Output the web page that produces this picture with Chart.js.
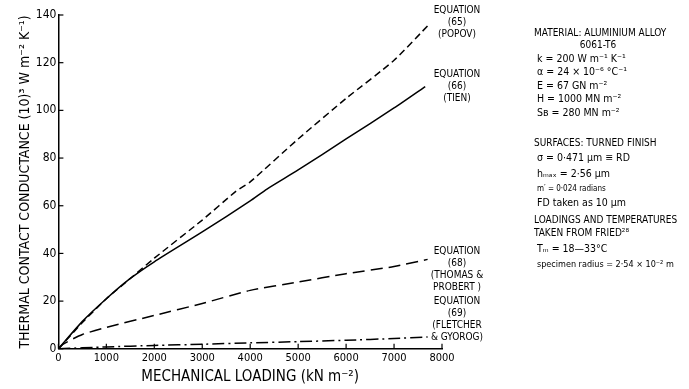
<!DOCTYPE html>
<html lang="en">
<head>
    <meta charset="UTF-8">
    <title>Thermal contact conductance vs mechanical loading</title>
    <script src="https://cdn.jsdelivr.net/npm/chart.js"></script>
    <style>
        body { margin: 0; background: #fff; }
        #wrap { width: 689px; height: 389px; position: relative; }
    </style>
</head>
<body>
<div id="wrap"><canvas id="myChart" width="689" height="389"></canvas></div>
<script>
    // values (loading in kN m^-2, conductance in 10^3 W m^-2 K^-1)
    const popovLoad = [0, 500, 1000, 1500, 2000, 3000, 3700, 4000, 5000, 6000, 7000, 7750];
    const popovCond = [0, 11, 21, 29.5, 38, 54, 66, 70, 88, 105, 121, 136.5];

    const tienLoad = [0, 500, 1000, 1500, 2000, 3000, 4000, 4350, 5000, 6000, 7000, 7650];
    const tienCond = [0, 11.5, 21, 29.5, 36.5, 49, 62, 67, 75, 88, 101, 110];

    const thomasLoad = [0, 100, 500, 1000, 2000, 3000, 4000, 5000, 6000, 7000, 7700];
    const thomasCond = [0, 2, 6, 9, 14, 19, 24.5, 28, 31.5, 34.5, 37.5];

    const fletcherLoad = [0, 1000, 2000, 3000, 4000, 5000, 6000, 7000, 7700];
    const fletcherCond = [0, 0.8, 1.4, 1.9, 2.5, 3, 3.6, 4.3, 5];

    const xTicks = [0, 1000, 2000, 3000, 4000, 5000, 6000, 7000, 8000];
    const yTicks = [0, 20, 40, 60, 80, 100, 120, 140];

    // labels at the ends of the curves
    const eqLabels = [
        ['EQUATION', '(65)', '(POPOV)'],
        ['EQUATION', '(66)', '(TIEN)'],
        ['EQUATION', '(68)', '(THOMAS &', 'PROBERT )'],
        ['EQUATION', '(69)', '(FLETCHER', '& GYOROG)']
    ];
    const eqLabelTop = [142, 115, 41, 20];   // y value of first line

    const noteLines = [
        'MATERIAL: ALUMINIUM ALLOY',
        '6061-T6',
        'k = 200 W m\u207B\u00B9 K\u207B\u00B9',
        '\u03B1 = 24 \u00D7 10\u207B\u2076 \u00B0C\u207B\u00B9',
        'E = 67 GN m\u207B\u00B2',
        'H = 1000 MN m\u207B\u00B2',
        'S\u0299 = 280 MN m\u207B\u00B2',
        'SURFACES: TURNED FINISH',
        '\u03C3 = 0\u00B7471 \u00B5m \u2261 RD',
        'h\u2098\u2090\u2093 = 2\u00B756 \u00B5m',
        'm\u2032 = 0\u00B7024 radians',
        'FD taken as 10 \u00B5m',
        'LOADINGS AND TEMPERATURES',
        'TAKEN FROM FRIED\u00B2\u2078',
        'T\u2098 = 18\u201433\u00B0C',
        'specimen radius = 2\u00B754 \u00D7 10\u207B\u00B2 m'
    ];
    const noteY = [33, 45, 59, 72, 86, 99, 113, 143, 158, 174, 189, 203, 220, 233, 249, 265];
    const noteX = [534, 598, 537, 537, 537, 537, 537, 534, 537, 537, 537, 537, 534, 534, 537, 537];
    const noteSize = [10, 10, 10.5, 10.5, 10.5, 10.5, 10.5, 10, 10.5, 10.5, 8, 10.5, 10, 10, 10.5, 9];

    const FONT = '"DejaVu Sans Condensed", "Liberation Sans Narrow", "Liberation Sans", sans-serif';

    function pts(xs, ys) {
        return xs.map((x, i) => ({ x: x, y: ys[i] }));
    }

    const inwardTicks = {
        id: 'inwardTicks',
        afterDraw(chart) {
            const ctx = chart.ctx;
            const xs = chart.scales.x, ys = chart.scales.y;
            ctx.save();
            ctx.strokeStyle = '#000';
            ctx.lineWidth = 1.2;
            xTicks.forEach(v => {
                const px = xs.getPixelForValue(v);
                ctx.beginPath();
                ctx.moveTo(px, ys.bottom);
                ctx.lineTo(px, ys.bottom - 5);
                ctx.stroke();
            });
            yTicks.forEach(v => {
                const py = ys.getPixelForValue(v);
                ctx.beginPath();
                ctx.moveTo(xs.left, py);
                ctx.lineTo(xs.left + 5, py);
                ctx.stroke();
            });
            ctx.restore();
        }
    };

    const notes = {
        id: 'notes',
        afterDraw(chart) {
            const ctx = chart.ctx;
            const ys = chart.scales.y;
            ctx.save();
            ctx.fillStyle = '#000';
            ctx.textBaseline = 'middle';
            // equation labels
            ctx.textAlign = 'center';
            ctx.font = '10px ' + FONT;
            eqLabels.forEach((lines, k) => {
                const top = ys.getPixelForValue(eqLabelTop[k]);
                lines.forEach((t, i) => ctx.fillText(t, 457, top + i * 12));
            });
            // material notes
            noteLines.forEach((t, i) => {
                ctx.font = noteSize[i] + 'px ' + FONT;
                ctx.textAlign = i === 1 ? 'center' : 'left';
                ctx.fillText(t, noteX[i], noteY[i]);
            });
            ctx.restore();
        }
    };

    const ctx = document.getElementById('myChart').getContext('2d');
    const myChart = new Chart(ctx, {
        type: 'scatter',
        data: {
            datasets: [
                {
                    label: 'Equation (65) Popov',
                    data: pts(popovLoad, popovCond),
                    borderDash: [7, 4]
                },
                {
                    label: 'Equation (66) Tien',
                    data: pts(tienLoad, tienCond),
                    borderDash: []
                },
                {
                    label: 'Equation (68) Thomas & Probert',
                    data: pts(thomasLoad, thomasCond),
                    borderDash: [12, 6]
                },
                {
                    label: 'Equation (69) Fletcher & Gyorog',
                    data: pts(fletcherLoad, fletcherCond),
                    borderDash: [12, 4, 2, 4]
                }
            ].map(d => Object.assign(d, {
                showLine: true,
                borderColor: '#000',
                borderWidth: 1.5,
                pointRadius: 0,
                tension: 0.2
            }))
        },
        options: {
            responsive: false,
            animation: false,
            layout: { padding: { left: 17, right: 247, top: 15, bottom: 3 } },
            plugins: {
                legend: { display: false },
                tooltip: { enabled: false }
            },
            scales: {
                x: {
                    type: 'linear',
                    min: 0,
                    max: 8000,
                    afterBuildTicks: s => { s.ticks = xTicks.map(v => ({ value: v })); },
                    grid: { display: false, drawTicks: false },
                    border: { color: '#000', width: 1.5 },
                    ticks: {
                        color: '#000',
                        padding: 3,
                        maxRotation: 0,
                        callback: v => String(v),
                        font: { family: FONT, size: 11 }
                    },
                    title: {
                        display: true,
                        text: 'MECHANICAL LOADING (kN m\u207B\u00B2)',
                        color: '#000',
                        padding: { top: 0, bottom: 0 },
                        font: { family: FONT, size: 15 }
                    }
                },
                y: {
                    min: 0,
                    max: 140,
                    afterBuildTicks: s => { s.ticks = yTicks.map(v => ({ value: v })); },
                    grid: { display: false, drawTicks: false },
                    border: { color: '#000', width: 1.5 },
                    ticks: {
                        color: '#000',
                        padding: 2,
                        font: { family: FONT, size: 12 }
                    },
                    title: {
                        display: true,
                        text: 'THERMAL CONTACT CONDUCTANCE (10)\u00B3 W m\u207B\u00B2 K\u207B\u00B9)',
                        color: '#000',
                        padding: { top: 0, bottom: 0 },
                        font: { family: FONT, size: 14 }
                    }
                }
            }
        },
        plugins: [inwardTicks, notes]
    });
</script>
</body>
</html>
